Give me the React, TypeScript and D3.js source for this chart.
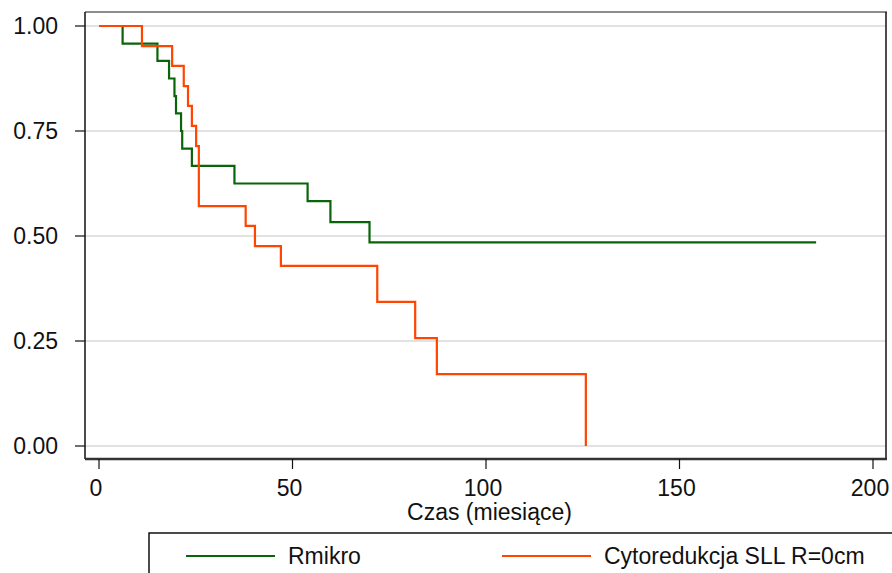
import React, { useEffect, useRef } from 'react';
import * as d3 from 'd3';

// Kaplan-Meier steps (time in months, survival)
const rmikroTimes = [0, 6.1, 15.1, 18.1, 19.5, 19.9, 21.2, 21.5, 24.0, 35.0, 53.9, 59.8, 69.9, 185.3];
const rmikroSurv = [1.0, 0.958, 0.917, 0.875, 0.833, 0.792, 0.75, 0.708, 0.667, 0.625, 0.583, 0.533, 0.485, 0.485];

const cytoTimes = [0, 11.1, 18.9, 21.9, 23.0, 24.0, 25.1, 25.8, 37.9, 40.3, 47.0, 71.9, 81.7, 87.3, 125.8];
const cytoSurv = [1.0, 0.952, 0.905, 0.857, 0.81, 0.762, 0.714, 0.571, 0.524, 0.476, 0.429, 0.343, 0.257, 0.171, 0];

const xTicks = [0, 50, 100, 150, 200];
const yTicks = [0, 0.25, 0.5, 0.75, 1];
const seriesNames = ['Rmikro', 'Cytoredukcja SLL R=0cm'];
const seriesColors = ['#0a640a', '#ff4500'];

const App: React.FC = () => {
  const ref = useRef<SVGSVGElement>(null);

  useEffect(() => {
    if (!ref.current) return;
    const svg = d3.select(ref.current);
    svg.selectAll('*').remove();

    const font = '"Liberation Sans", Arial, sans-serif';
    const fontSize = 23;
    const frame = { left: 85, right: 886, top: 12, bottom: 459 };

    const x = d3.scaleLinear().domain([0, 200]).range([99, 873]);
    const y = d3.scaleLinear().domain([0, 1]).range([446, 26]);

    // grid lines
    svg.append('g')
      .selectAll('line')
      .data(yTicks)
      .join('line')
      .attr('x1', frame.left)
      .attr('x2', frame.right)
      .attr('y1', d => y(d))
      .attr('y2', d => y(d))
      .attr('stroke', '#e2e2e2')
      .attr('stroke-width', 2);

    // step curves
    const line = d3.line<[number, number]>()
      .x(d => x(d[0]))
      .y(d => y(d[1]))
      .curve(d3.curveStepAfter);

    const series = [
      d3.zip(rmikroTimes, rmikroSurv) as [number, number][],
      d3.zip(cytoTimes, cytoSurv) as [number, number][],
    ];
    series.forEach((s, i) => {
      svg.append('path')
        .datum(s)
        .attr('fill', 'none')
        .attr('stroke', seriesColors[i])
        .attr('stroke-width', 2.2)
        .attr('d', line);
    });

    // plot frame
    svg.append('line')
      .attr('x1', frame.left).attr('x2', frame.right + 1)
      .attr('y1', frame.top).attr('y2', frame.top)
      .attr('stroke', '#666').attr('stroke-width', 1.5);
    svg.append('line')
      .attr('x1', frame.right).attr('x2', frame.right)
      .attr('y1', frame.top).attr('y2', frame.bottom)
      .attr('stroke', '#111').attr('stroke-width', 1.5);
    svg.append('line')
      .attr('x1', frame.left).attr('x2', frame.left)
      .attr('y1', frame.top).attr('y2', frame.bottom)
      .attr('stroke', '#111').attr('stroke-width', 1.5);
    svg.append('line')
      .attr('x1', frame.left).attr('x2', frame.right + 1)
      .attr('y1', frame.bottom).attr('y2', frame.bottom)
      .attr('stroke', '#333').attr('stroke-width', 2.5);

    // y axis
    const yAxis = svg.append('g');
    yAxis.selectAll('line')
      .data(yTicks)
      .join('line')
      .attr('x1', 75).attr('x2', frame.left)
      .attr('y1', d => y(d)).attr('y2', d => y(d))
      .attr('stroke', '#111').attr('stroke-width', 1.2);
    yAxis.selectAll('text')
      .data(yTicks)
      .join('text')
      .attr('x', 58)
      .attr('y', d => y(d))
      .attr('dy', '0.35em')
      .attr('text-anchor', 'end')
      .attr('font-family', font)
      .attr('font-size', fontSize)
      .attr('fill', '#111')
      .text(d => d3.format('.2f')(d));

    // x axis
    const xAxis = svg.append('g');
    xAxis.selectAll('line')
      .data(xTicks)
      .join('line')
      .attr('x1', d => x(d)).attr('x2', d => x(d))
      .attr('y1', frame.bottom).attr('y2', 469)
      .attr('stroke', '#111').attr('stroke-width', 1.2);
    xAxis.selectAll('text')
      .data(xTicks)
      .join('text')
      .attr('x', d => x(d) - 3)
      .attr('y', 488)
      .attr('dy', '0.35em')
      .attr('text-anchor', 'middle')
      .attr('font-family', font)
      .attr('font-size', fontSize)
      .attr('fill', '#111')
      .text(d => String(d));

    svg.append('text')
      .attr('x', (frame.left + frame.right) / 2 + 4)
      .attr('y', 512)
      .attr('dy', '0.35em')
      .attr('text-anchor', 'middle')
      .attr('font-family', font)
      .attr('font-size', fontSize)
      .attr('fill', '#111')
      .text('Czas (miesiące)');

    // legend
    svg.append('rect')
      .attr('x', 149).attr('y', 533)
      .attr('width', 800).attr('height', 100)
      .attr('fill', '#fff')
      .attr('stroke', '#111').attr('stroke-width', 1.5);

    const legendX = [186, 502];
    seriesNames.forEach((name, i) => {
      svg.append('line')
        .attr('x1', legendX[i]).attr('x2', legendX[i] + 89)
        .attr('y1', 556).attr('y2', 556)
        .attr('stroke', seriesColors[i]).attr('stroke-width', 2.2);
      svg.append('text')
        .attr('x', legendX[i] + 102)
        .attr('y', 556)
        .attr('dy', '0.35em')
        .attr('font-family', font)
        .attr('font-size', fontSize)
        .attr('fill', '#111')
        .text(name);
    });
  }, []);

  return (
    <svg
      ref={ref}
      width={892}
      height={573}
      style={{ position: 'absolute', left: 0, top: 0, background: '#fff' }}
    />
  );
};

export default App;
